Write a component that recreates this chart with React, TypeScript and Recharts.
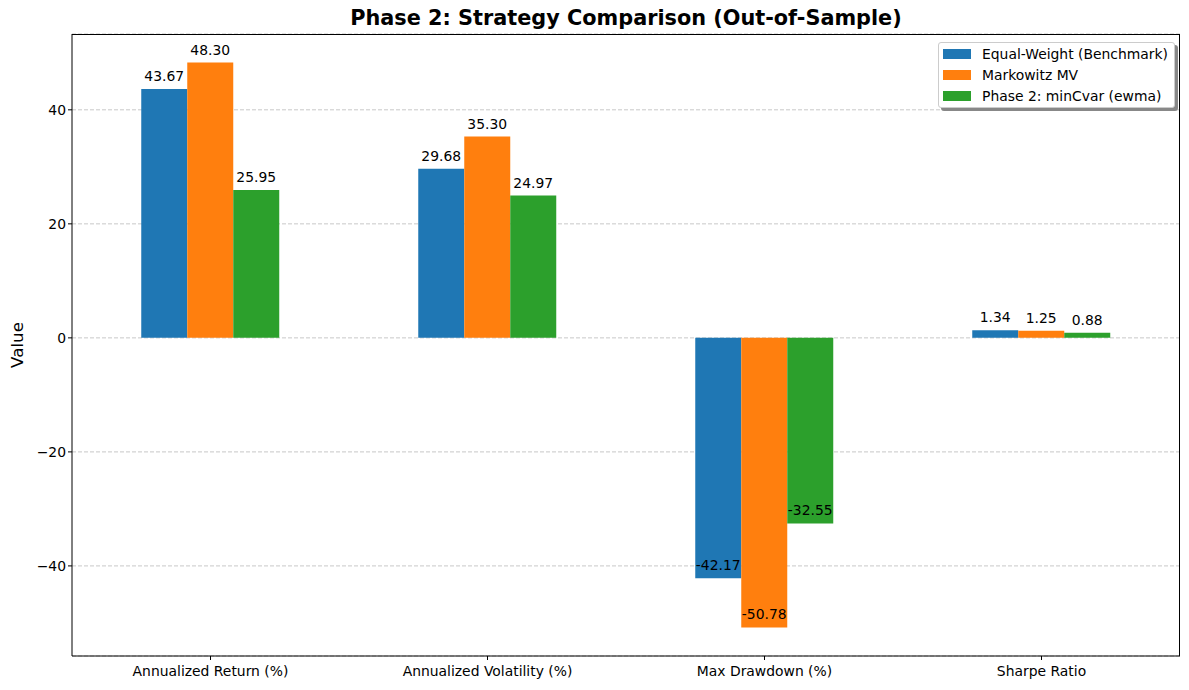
import { BarChart, Bar, XAxis, YAxis, CartesianGrid, LabelList } from "recharts";

const metrics = [
  "Annualized Return (%)",
  "Annualized Volatility (%)",
  "Max Drawdown (%)",
  "Sharpe Ratio",
];
const equalWeight = [43.67, 29.68, -42.17, 1.34];
const markowitz = [48.3, 35.3, -50.78, 1.25];
const minCvar = [25.95, 24.97, -32.55, 0.88];
const yTicks = [-40, -20, 0, 20, 40];

const seriesNames = ["Equal-Weight (Benchmark)", "Markowitz MV", "Phase 2: minCvar (ewma)"];
const seriesKeys = ["ew", "mv", "cvar"];
const colors = ["#1f77b4", "#ff7f0e", "#2ca02c"];

const data = metrics.map((m, i) => ({
  name: m,
  ew: equalWeight[i],
  mv: markowitz[i],
  cvar: minCvar[i],
}));

const FONT = "'DejaVu Sans', sans-serif";
const FS = 13.9;

// label sits just above the bar tip (for negatives that is inside the bar)
const valueLabel = (props: any) => {
  const { x, y, width, height, value } = props;
  const tip = value >= 0 ? Math.min(y, y + height) : Math.max(y, y + height);
  return (
    <text
      x={x + width / 2}
      y={tip - 8}
      textAnchor="middle"
      fontSize={FS}
      fontFamily={FONT}
      fill="#000"
    >
      {Number(value).toFixed(2)}
    </text>
  );
};

export default function App() {
  return (
    <div style={{ position: "absolute", left: 0, top: 0, width: 1189, height: 690, background: "#fff", fontFamily: FONT }}>
      <div
        style={{
          position: "absolute",
          left: 72,
          width: 1108,
          top: 6,
          textAlign: "center",
          fontSize: 20.8,
          fontWeight: "bold",
          color: "#000",
        }}
      >
        Phase 2: Strategy Comparison (Out-of-Sample)
      </div>
      <div
        style={{
          position: "absolute",
          left: 17,
          top: 345,
          transform: "translate(-50%, -50%) rotate(-90deg)",
          fontSize: 16.7,
          color: "#000",
        }}
      >
        Value
      </div>
      <BarChart
        width={1189}
        height={690}
        data={data}
        margin={{ top: 34, right: 9, bottom: 0, left: 0 }}
        barCategoryGap="25%"
        barGap={0}
      >
        <CartesianGrid vertical={false} stroke="#c8c8c8" strokeDasharray="4 2" />
        <XAxis
          dataKey="name"
          height={34}
          axisLine={{ stroke: "#000" }}
          tickLine={{ stroke: "#000" }}
          tickSize={4}
          tick={{ fontSize: FS, fill: "#000", fontFamily: FONT, dy: 4 }}
        />
        <YAxis
          width={72}
          domain={[-55.8, 53.3]}
          ticks={yTicks}
          allowDataOverflow
          axisLine={{ stroke: "#000" }}
          tickLine={{ stroke: "#000" }}
          tickSize={4}
          tickFormatter={(v: number) => String(v).replace("-", "\u2212")}
          tick={{ fontSize: FS, fill: "#000", fontFamily: FONT }}
        />
        {seriesKeys.map((k, i) => (
          <Bar key={k} dataKey={k} name={seriesNames[i]} fill={colors[i]} isAnimationActive={false}>
            <LabelList dataKey={k} content={valueLabel} />
          </Bar>
        ))}
      </BarChart>
      {/* top / right spines */}
      <div
        style={{
          position: "absolute",
          left: 72,
          top: 34,
          width: 1108,
          height: 622,
          borderTop: "1px solid #000",
          borderRight: "1px solid #000",
          boxSizing: "border-box",
          pointerEvents: "none",
        }}
      />
      <div
        style={{
          position: "absolute",
          left: 938,
          top: 42,
          width: 237,
          height: 66,
          background: "#fff",
          border: "1px solid #cccccc",
          borderRadius: 3,
          boxShadow: "3px 3px 0 #888",
          boxSizing: "border-box",
          padding: "1px 0 0 4px",
        }}
      >
        {seriesNames.map((n, i) => (
          <div key={n} style={{ display: "flex", alignItems: "center", height: 20.8, fontSize: FS, color: "#000", whiteSpace: "nowrap" }}>
            <span style={{ display: "inline-block", width: 28, height: 10, background: colors[i], marginRight: 11 }} />
            {n}
          </div>
        ))}
      </div>
    </div>
  );
}
